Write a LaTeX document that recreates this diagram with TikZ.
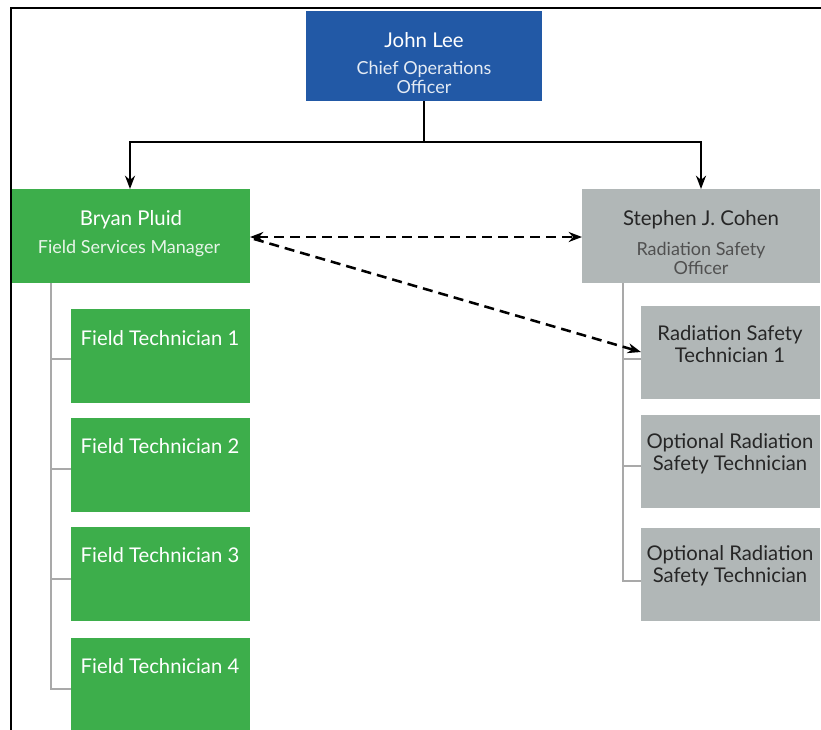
\documentclass[tikz,border=0pt]{standalone}
\usepackage{fontspec}
\setmainfont{Lato}
\usetikzlibrary{arrows.meta,calc}
\definecolor{cooblue}{HTML}{2259A6}
\definecolor{fsgreen}{HTML}{3DAE4B}
\definecolor{rsgray}{HTML}{B1B7B7}
\definecolor{treeline}{HTML}{A9A9A9}
\definecolor{subgray}{HTML}{505050}
\begin{document}
\begin{tikzpicture}[x=0.75pt,y=-0.75pt,
  box/.style={anchor=north west,inner sep=0pt,outer sep=0pt,minimum width=#1*0.75pt},
  bluebox/.style={box=236,fill=cooblue,minimum height=90*0.75pt},
  greenbox/.style={box=238,fill=fsgreen,minimum height=94*0.75pt},
  greybox/.style={box=238,fill=rsgray,minimum height=94*0.75pt},
  ftbox/.style={box=179,fill=fsgreen,minimum height=94*0.75pt},
  rtbox/.style={box=179,fill=rsgray,minimum height=93*0.75pt},
  whitetxt/.style={text=white,align=center,inner sep=0pt},
  darktxt/.style={text=black!85,align=center,inner sep=0pt},
  namefont/.style={font=\fontsize{15.3}{17}\selectfont},
  subfont/.style={font=\fontsize{13.5}{14.25}\selectfont},
  techfont/.style={font=\fontsize{15.2}{16.5}\selectfont},
  orgline/.style={line width=1.9pt,black},
  orgarrow/.style={orgline,-{Stealth[length=10pt,width=7.5pt]}},
  dasharrow/.style={line width=1.9pt,black,dash pattern=on 7.5pt off 4.5pt,{Stealth[length=10pt,width=7.5pt]}-{Stealth[length=10pt,width=7.5pt]}},
  dasharrowone/.style={line width=1.9pt,black,dash pattern=on 7.5pt off 4.5pt,-{Stealth[length=10pt,width=7.5pt]}},
  tree/.style={line width=1.1pt,treeline}
]
\useasboundingbox[fill=white] (0,0) rectangle (821,729);
% frame
\draw[line width=1.6pt,black] (11,740) -- (11,8) -- (830,8);

% boxes
\node[bluebox] (coo) at (306,11) {};
\node[greenbox] (fsm) at (12,189) {};
\node[greybox] (rso) at (582,189) {};
\node[ftbox] (ft1) at (71,309) {};
\node[ftbox] (ft2) at (71,418) {};
\node[ftbox] (ft3) at (71,527) {};
\node[ftbox] (ft4) at (71,638) {};
\node[rtbox] (rt1) at (641,306) {};
\node[rtbox] (rt2) at (641,415) {};
\node[rtbox] (rt3) at (641,528) {};

% texts
\node[whitetxt,namefont] (cooname) at (424,40) {John Lee};
\node[whitetxt,subfont,text=white!88!cooblue] (cootitle) at (424,77) {Chief Operations\\Officer};
\node[whitetxt,namefont] (fsmname) at (131,220) {Bryan Pluid};
\node[whitetxt,subfont,text=white!88!fsgreen] (fsmtitle) at (129,249) {Field Services Manager};
\node[darktxt,namefont] (rsoname) at (701,220) {Stephen J. Cohen};
\node[darktxt,subfont,text=subgray] (rsotitle) at (701,258) {Radiation Safety\\Officer};
\node[whitetxt,techfont] (ft1t) at (160,338) {Field Technician 1};
\node[whitetxt,techfont] (ft2t) at (160,446) {Field Technician 2};
\node[whitetxt,techfont] (ft3t) at (160,555) {Field Technician 3};
\node[whitetxt,techfont] (ft4t) at (160,666) {Field Technician 4};
\node[darktxt,techfont] (rt1t) at (730,344) {Radiation Safety\\Technician 1};
\node[darktxt,techfont] (rt2t) at (730,454) {Optional Radiation\\Safety Technician};
\node[darktxt,techfont] (rt3t) at (730,566) {Optional Radiation\\Safety Technician};

% tree lines
\coordinate (lt) at (51,283);
\draw[tree] (lt) -- (51,689) -- (ft4.west |- 0,689);
\draw[tree] (51,359) -- (ft1.west |- 0,359);
\draw[tree] (51,469) -- (ft2.west |- 0,469);
\draw[tree] (51,579) -- (ft3.west |- 0,579);
\coordinate (rt) at (623,283);
\draw[tree] (rt) -- (623,581) -- (rt3.west |- 0,581);
\draw[tree] (623,359) -- (rt1.west |- 0,359);
\draw[tree] (623,466) -- (rt2.west |- 0,466);

% org connectors
\coordinate (mid) at (424,142);
\draw[orgline] (coo.south) -- (mid);
\draw[orgarrow] (mid) -- (130,142) -- (fsm.north -| 130,0);
\draw[orgarrow] (mid) -- (701,142) -- (rso.north -| 701,0);

% dashed
\draw[dasharrow] (fsm.east |- 0,237) -- (rso.west |- 0,237);
\draw[dasharrowone] ($(fsm.east |- 0,237)+(4,2)$) -- (rt1.west |- 0,352);
\end{tikzpicture}
\end{document}
